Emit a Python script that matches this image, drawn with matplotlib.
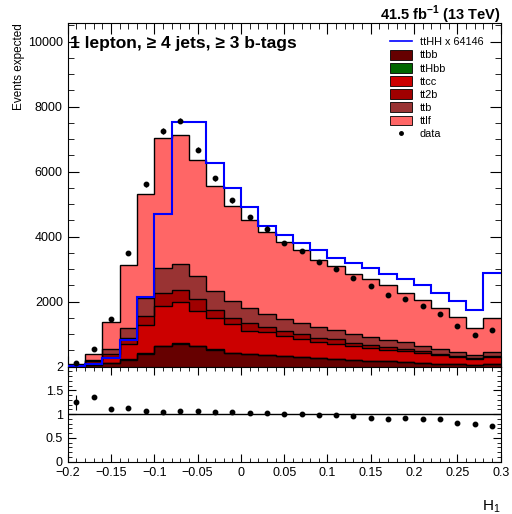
import numpy as np
import matplotlib
matplotlib.use("Agg")
import matplotlib.pyplot as plt
from matplotlib.ticker import MultipleLocator, FixedLocator
from matplotlib.patches import Patch
from matplotlib.lines import Line2D

plt.rcParams['font.family'] = ['Liberation Sans', 'DejaVu Sans']
plt.rcParams['mathtext.fontset'] = 'custom'
plt.rcParams['mathtext.rm'] = 'Liberation Sans'
plt.rcParams['mathtext.bf'] = 'Liberation Sans:bold'

# binning of H1
edges = np.linspace(-0.2, 0.3, 26)

# stacked backgrounds (events per bin), bottom to top
ttbb = [10, 40, 113, 216, 395, 627, 700, 627, 525, 422, 395, 345, 318, 292, 267,
        236, 195, 185, 165, 144, 113, 92, 72, 62, 82]
ttHbb = [1, 2, 4, 8, 12, 15, 15, 13, 11, 9, 8, 7, 6, 6, 5, 5, 4, 4, 3, 3, 3, 2, 2, 2, 2]
ttcc = [15, 80, 186, 474, 875, 1216, 1266, 1088, 956, 874, 705, 720, 607, 541, 484,
        464, 432, 381, 349, 329, 298, 258, 226, 174, 216]
tt2b = [5, 40, 92, 195, 264, 401, 389, 340, 257, 207, 245, 155, 175, 155, 134,
        133, 103, 92, 82, 72, 62, 51, 42, 31, 42]
ttb = [10, 56, 155, 309, 566, 781, 803, 723, 586, 493, 455, 406, 372, 352, 339,
       278, 258, 247, 216, 206, 175, 144, 113, 83, 102]
ttlf = [40, 175, 822, 1933, 3187, 3981, 3951, 3577, 3216, 2939, 2706, 2504, 2348, 2230, 2048,
        1985, 1852, 1780, 1688, 1522, 1399, 1266, 1080, 843, 1060]

# signal scaled x 64146
ttHH = [20, 80, 280, 830, 2130, 4700, 7520, 7520, 6255, 5485, 4897, 4340, 4064, 3796, 3580,
        3354, 3179, 3035, 2860, 2695, 2510, 2273, 2016, 1738, 2870]

data = [100, 535, 1481, 3488, 5608, 7253, 7571, 6676, 5802, 5114, 4599, 4250, 3807, 3560, 3220,
        3015, 2716, 2490, 2202, 2090, 1852, 1615, 1265, 966, 1142]

ratio = [1.25, 1.36, 1.10, 1.14, 1.07, 1.05, 1.07, 1.06, 1.05, 1.04, 1.03, 1.03, 1.00, 1.00, 0.99,
         0.975, 0.96, 0.93, 0.89, 0.91, 0.905, 0.90, 0.82, 0.80, 0.76]
ratio_err = [0.16, 0.05, 0.03, 0.02, 0.015, 0.013, 0.012, 0.013, 0.014, 0.015, 0.015, 0.016, 0.016,
             0.017, 0.018, 0.018, 0.019, 0.019, 0.02, 0.02, 0.021, 0.022, 0.024, 0.026, 0.024]

names = ["ttbb", "ttHbb", "ttcc", "tt2b", "ttb", "ttlf"]
colors = ["#660000", "#006600", "#cc0000", "#a00000", "#993333", "#ff6666"]
stack = [ttbb, ttHbb, ttcc, tt2b, ttb, ttlf]

fig = plt.figure(figsize=(5.12, 5.14), dpi=100)
ax = fig.add_axes([0.1322, 0.2866, 0.8457, 0.668])
rax = fig.add_axes([0.1322, 0.1018, 0.8457, 0.1848])

centers = 0.5 * (edges[:-1] + edges[1:])
base = np.zeros(len(centers))
for vals, c in zip(stack, colors):
    top = base + np.array(vals)
    ax.stairs(top, edges, baseline=base, fill=True, color=c, zorder=2)
    base = top
base = np.zeros(len(centers))
for vals in stack:
    top = base + np.array(vals)
    ax.stairs(top, edges, baseline=None, color="black", lw=1.0, zorder=3)
    base = top

ax.stairs(ttHH, edges, baseline=None, color="#0000ff", lw=1.5, zorder=4)
ax.errorbar(centers, data, yerr=np.sqrt(data), fmt="o", color="black", ms=3.2,
            elinewidth=0.8, capsize=0, zorder=5)

ax.set_xlim(-0.2, 0.3)
ax.set_ylim(0, 10560)
ax.yaxis.set_major_locator(FixedLocator([2000, 4000, 6000, 8000, 10000]))
ax.yaxis.set_minor_locator(MultipleLocator(500))
ax.xaxis.set_major_locator(MultipleLocator(0.05))
ax.xaxis.set_minor_locator(MultipleLocator(0.01))
ax.tick_params(axis="both", which="both", direction="in", top=True, right=True, labelsize=9)
ax.tick_params(which="major", length=8)
ax.tick_params(which="minor", length=4)
ax.tick_params(axis="x", labelbottom=False)
ax.set_ylabel("Events expected", fontsize=8.5, loc="top", labelpad=2)

ax.text(0.006, 0.963, "1 lepton, \u2265 4 jets, \u2265 3 b-tags", transform=ax.transAxes,
        fontsize=12.5, fontweight="bold", va="top", ha="left", zorder=10)
fig.text(0.978, 0.962, r"41.5 fb$^{\mathbf{-1}}$ (13 TeV)", fontsize=10.5, fontweight="bold",
         ha="right", va="baseline")

handles = [Line2D([], [], color="#0000ff", lw=1.2)]
labels = ["ttHH x 64146"]
for n, c in zip(names, colors):
    handles.append(Patch(facecolor=c, edgecolor="black", lw=0.6))
    labels.append(n)
handles.append(Line2D([], [], marker="o", color="black", ls="none", ms=2.5))
labels.append("data")
ax.legend(handles, labels, loc="upper right", bbox_to_anchor=(0.975, 0.98), frameon=False,
          fontsize=7.8, handlelength=2.0, handleheight=1.0, labelspacing=0.24, borderaxespad=0.2,
          handletextpad=0.7)

rax.errorbar(centers, ratio, yerr=ratio_err, fmt="o", color="black", ms=3.2,
             elinewidth=0.8, capsize=0, zorder=5)
rax.axhline(1.0, color="black", lw=1.0)
rax.set_xlim(-0.2, 0.3)
rax.set_ylim(0, 2)
rax.yaxis.set_major_locator(MultipleLocator(0.5))
rax.yaxis.set_minor_locator(MultipleLocator(0.1))
rax.xaxis.set_major_locator(MultipleLocator(0.05))
rax.xaxis.set_minor_locator(MultipleLocator(0.01))
rax.tick_params(axis="both", which="both", direction="in", top=True, right=True, labelsize=9)
rax.tick_params(which="major", length=6)
rax.tick_params(which="minor", length=3)
rax.set_yticks([0, 0.5, 1, 1.5, 2])
rax.set_yticklabels(["0", "0.5", "1", "1.5", "2"])
rax.set_xticks(np.arange(-0.2, 0.301, 0.05))
rax.set_xticklabels(["\u22120.2", "\u22120.15", "\u22120.1", "\u22120.05", "0", "0.05",
                     "0.1", "0.15", "0.2", "0.25", "0.3"])
rax.set_xlabel("H$_1$", fontsize=11, loc="right", labelpad=14)

fig.savefig("out.png", dpi=100)
